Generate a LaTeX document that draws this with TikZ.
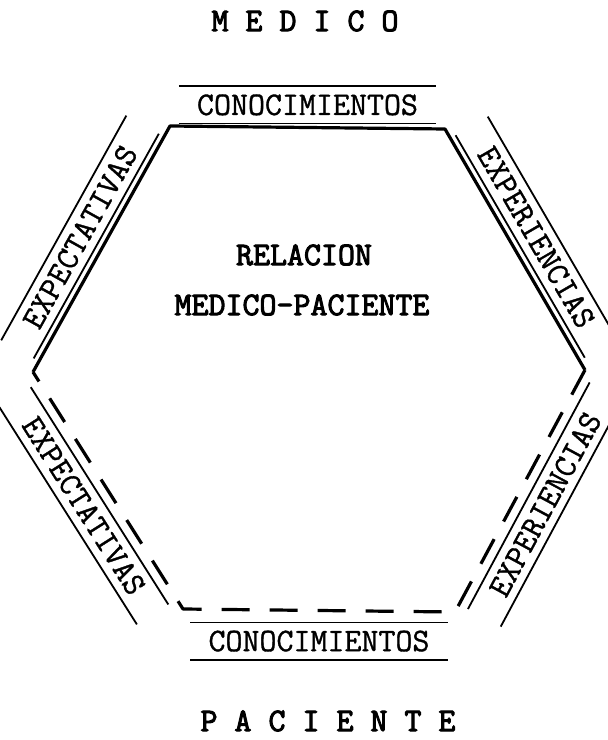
\documentclass[tikz,border=0pt]{standalone}
\usepackage{fontspec}
\newfontfamily\typefont{Latin Modern Mono}[FakeBold=1]
\newfontfamily\typebold{Latin Modern Mono}[FakeBold=3]
\begin{document}
\begin{tikzpicture}[
    x=0.5pt, y=0.5pt,
    title/.style={font=\typebold\fontsize{16.5}{19}\selectfont, inner sep=0pt},
    band/.style={font=\typefont\fontsize{16.5}{19}\selectfont, minimum width=127pt, minimum height=17pt, inner sep=0pt},
    edge/.style={line width=1.6pt, line join=round},
    gap/.style={dash pattern=on 14pt off 10pt},
    rule/.style={line width=0.9pt}
]
\useasboundingbox (0,0) rectangle (608,740);
\coordinate (TL) at (170,614);
\coordinate (TR) at (445,611);
\coordinate (R)  at (585,370);
\coordinate (BR) at (455,128);
\coordinate (BL) at (183,131);
\coordinate (L)  at (33,368);
\node[title] (med) at (305,719) {M E D I C O};
\node[title] (pac) at (328,19)  {P A C I E N T E};
\node[title] (rel) at (304,485) {RELACION};
\node[title] (mp)  at (302,435) {MEDICO-PACIENTE};
\draw[edge] (L)
    -- node[band, sloped, above=3pt] (expM) {EXPECTATIVAS} (TL)
    -- node[band, above=2pt] (conM) {CONOCIMIENTOS} (TR)
    -- node[band, sloped, above=3pt] (expeM) {EXPERIENCIAS} (R);
\draw[edge, gap] (R)
    -- node[band, sloped, below=5pt] (expeP) {EXPERIENCIAS} (BR)
    -- node[band, below=6pt] (conP) {CONOCIMIENTOS} (BL)
    -- node[band, sloped, below=5pt] (expP) {EXPECTATIVAS} (L);
\foreach \n in {expM,conM,expeM,expeP,conP,expP}
    \draw[rule] (\n.north west) -- (\n.north east)
                (\n.south west) -- (\n.south east);
\end{tikzpicture}
\end{document}
